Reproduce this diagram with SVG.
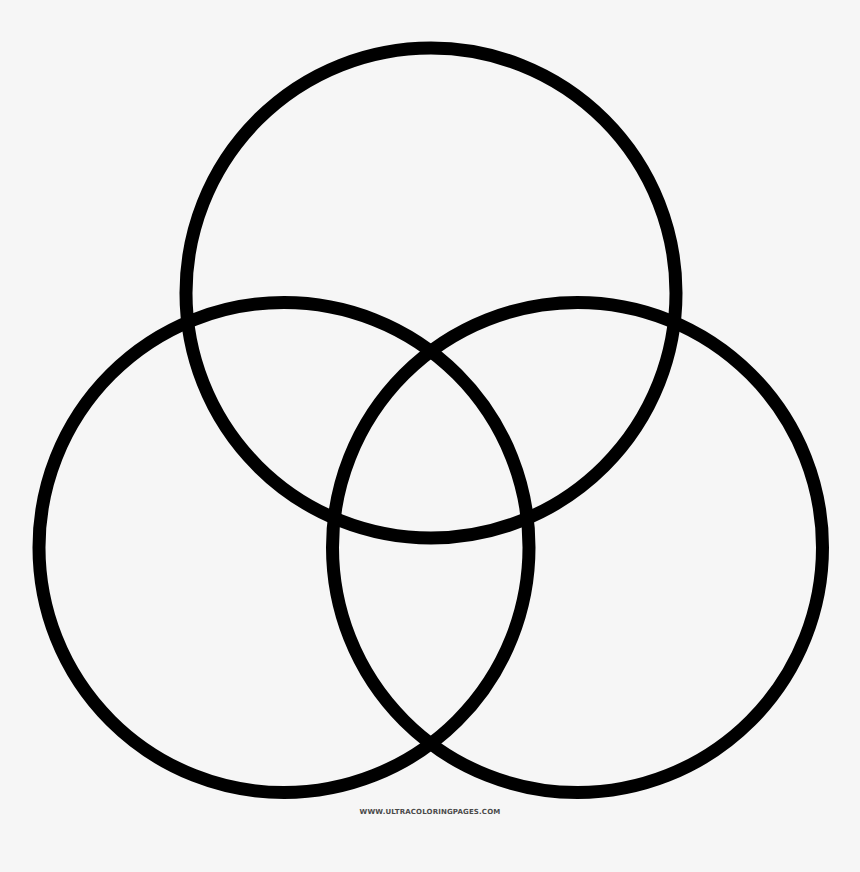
<svg xmlns="http://www.w3.org/2000/svg" width="860" height="872" viewBox="0 0 860 872">
<style>
.c{fill:none;stroke:#000;stroke-width:13}
.w{font-family:"DejaVu Sans","Liberation Sans",sans-serif;font-size:7px;font-weight:bold;fill:#4a4a4a;letter-spacing:0.15px}
</style>
<rect width="860" height="872" fill="#f6f6f6"/>
<g id="top"><circle class="c" cx="431" cy="293" r="245"/></g>
<g id="left"><circle class="c" cx="284" cy="547.5" r="245"/></g>
<g id="right"><circle class="c" cx="577.5" cy="547.5" r="245"/></g>
<text class="w" x="430" y="814" text-anchor="middle">WWW.ULTRACOLORINGPAGES.COM</text>
</svg>
